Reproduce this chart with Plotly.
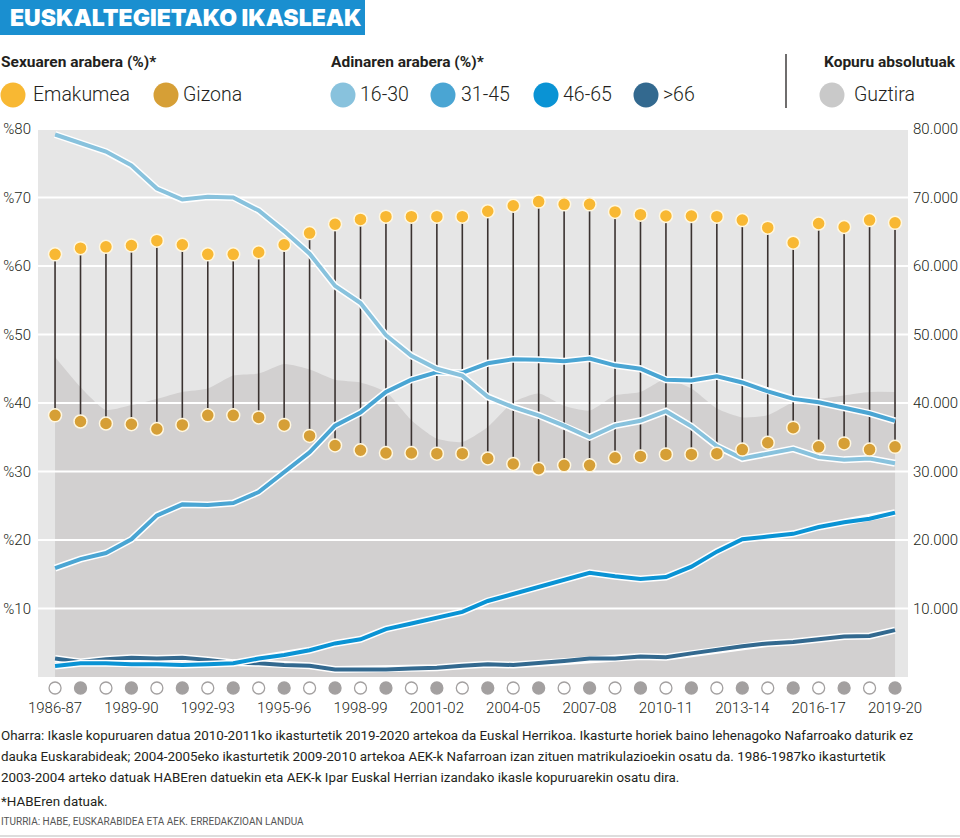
import plotly.graph_objects as go

# ---------------- data ----------------
seasons = ["1986-87", "1987-88", "1988-89", "1989-90", "1990-91", "1991-92", "1992-93",
           "1993-94", "1994-95", "1995-96", "1996-97", "1997-98", "1998-99", "1999-00",
           "2000-01", "2001-02", "2002-03", "2003-04", "2004-05", "2005-06", "2006-07",
           "2007-08", "2008-09", "2009-10", "2010-11", "2011-12", "2012-13", "2013-14",
           "2014-15", "2015-16", "2016-17", "2017-18", "2018-19", "2019-20"]
tick_seasons = ["1986-87", "1989-90", "1992-93", "1995-96", "1998-99", "2001-02",
                "2004-05", "2007-08", "2010-11", "2013-14", "2016-17", "2019-20"]

women = [61.7, 62.6, 62.8, 63.0, 63.7, 63.1, 61.7, 61.7, 62.0, 63.1, 64.8, 66.1, 66.8, 67.2,
         67.2, 67.2, 67.2, 68.0, 68.8, 69.4, 69.0, 69.0, 67.9, 67.5, 67.3, 67.3, 67.2, 66.7,
         65.6, 63.4, 66.2, 65.7, 66.7, 66.3]
men = [38.2, 37.3, 37.0, 36.9, 36.2, 36.8, 38.2, 38.2, 37.9, 36.8, 35.2, 33.8, 33.1, 32.7,
       32.7, 32.6, 32.6, 31.9, 31.1, 30.4, 30.9, 30.9, 32.0, 32.2, 32.5, 32.5, 32.6, 33.2,
       34.2, 36.4, 33.6, 34.1, 33.2, 33.6]

age_16_30 = [79.2, 78.0, 76.7, 74.7, 71.3, 69.7, 70.1, 70.0, 68.1, 65.1, 61.8, 57.1, 54.6, 49.9,
             46.9, 45.0, 44.0, 40.9, 39.4, 38.2, 36.7, 35.0, 36.7, 37.4, 38.8, 36.6, 33.7, 31.9,
             32.6, 33.3, 32.1, 31.7, 31.9, 31.2]
age_31_45 = [15.9, 17.2, 18.1, 20.1, 23.6, 25.2, 25.1, 25.4, 27.0, 29.9, 32.8, 36.7, 38.6, 41.6,
             43.4, 44.5, 44.4, 45.8, 46.4, 46.3, 46.1, 46.5, 45.5, 45.0, 43.4, 43.3, 43.9, 43.0,
             41.7, 40.6, 40.1, 39.3, 38.5, 37.4]
age_46_65 = [1.6, 2.0, 2.0, 1.85, 1.85, 1.75, 1.85, 2.0, 2.7, 3.2, 3.9, 4.9, 5.5, 7.0,
             7.8, 8.7, 9.5, 11.1, 12.1, 13.2, 14.1, 15.2, 14.7, 14.3, 14.6, 16.1, 18.3, 20.1,
             20.5, 20.9, 21.9, 22.6, 23.1, 24.0]
age_66 = [2.7, 2.2, 2.6, 2.8, 2.7, 2.8, 2.5, 2.1, 2.0, 1.75, 1.65, 1.1, 1.1, 1.1,
          1.25, 1.35, 1.65, 1.85, 1.75, 2.0, 2.35, 2.7, 2.7, 3.0, 2.9, 3.45, 4.0, 4.5,
          4.9, 5.1, 5.5, 5.9, 6.0, 6.85]

total = [46700, 42300, 39000, 39700, 40600, 41600, 42100, 44000, 44300, 45700, 44900, 43400,
         43000, 41600, 37500, 34800, 34300, 36500, 40100, 41400, 39600, 38900, 41100, 41600,
         43500, 42100, 39200, 37900, 38200, 40100, 40600, 41100, 41600, 41600]

pct_ticks = [10, 20, 30, 40, 50, 60, 70, 80]
pct_labels = ["%10", "%20", "%30", "%40", "%50", "%60", "%70", "%80"]
abs_ticks = [10000, 20000, 30000, 40000, 50000, 60000, 70000, 80000]
abs_labels = ["10.000", "20.000", "30.000", "40.000", "50.000", "60.000", "70.000", "80.000"]

# ---------------- styling / geometry ----------------
W, H = 960, 838
L, R, T, B = 38, 908, 129, 696       # plot area in pixels
ZERO_PX = 677                        # pixel row of value 0
ROW_PX = 688                         # pixel row of the season marker strip
PCT_MAX, ABS_MAX = 80, 80000
unit = (ZERO_PX - T) / PCT_MAX       # px per percent
pct_min = -(B - ZERO_PX) / unit
abs_min = pct_min * ABS_MAX / PCT_MAX
X_RANGE = [-0.67, 33.51]

TXT = "#231f20"
C_WOMEN = "#f8b833"
C_MEN = "#d69f36"
C_1630 = "#88c2dd"
C_3145 = "#4aa5d3"
C_4665 = "#0a93d4"
C_66 = "#33698f"
C_AREA = "#d2d0d0"
C_BG = "#e6e6e6"
C_STEM = "#3a3230"
FONT = "Roboto"


def px(x):
    return (x - L) / (R - L)


def py(y):
    return (B - y) / (B - T)


xs = list(range(len(seasons)))
tick_pos = [seasons.index(s) for s in tick_seasons]

fig = go.Figure()

# total students (absolute, right axis)
fig.add_trace(go.Scatter(
    x=xs, y=total, yaxis="y", mode="lines", fill="tozeroy",
    line=dict(width=0, shape="spline", smoothing=0.6), fillcolor=C_AREA,
    hoverinfo="skip", showlegend=False))

# white gridlines drawn over the area
gx, gy = [], []
for v in pct_ticks:
    gx += [X_RANGE[0], X_RANGE[1], None]
    gy += [v, v, None]
fig.add_trace(go.Scatter(x=gx, y=gy, yaxis="y2", mode="lines",
                         line=dict(color="white", width=2), hoverinfo="skip", showlegend=False))

# alternating season markers below the plot
row_y = [-(ROW_PX - ZERO_PX) / unit] * len(seasons)
fills = ["white" if i % 2 == 0 else "#a3a0a0" for i in xs]
fig.add_trace(go.Scatter(x=xs, y=row_y, yaxis="y2", mode="markers",
                         marker=dict(color=fills, size=12, line=dict(color="#a3a0a0", width=1.3)),
                         hoverinfo="skip", showlegend=False))

# stems between women and men
sx, sy = [], []
for i, w, m in zip(xs, women, men):
    sx += [i, i, None]
    sy += [w, m, None]
fig.add_trace(go.Scatter(x=sx, y=sy, yaxis="y2", mode="lines",
                         line=dict(color=C_STEM, width=1.6), hoverinfo="skip",
                         showlegend=False))

# age lines with white casing
for vals, col in [(age_66, C_66), (age_46_65, C_4665), (age_31_45, C_3145), (age_16_30, C_1630)]:
    fig.add_trace(go.Scatter(x=xs, y=vals, yaxis="y2", mode="lines",
                             line=dict(color="white", width=7), hoverinfo="skip",
                             showlegend=False))
    fig.add_trace(go.Scatter(x=xs, y=vals, yaxis="y2", mode="lines",
                             line=dict(color=col, width=4), showlegend=False))

# gender dots
fig.add_trace(go.Scatter(x=xs, y=men, yaxis="y2", mode="markers",
                         marker=dict(color=C_MEN, size=13, line=dict(color="#fff7e0", width=1.5)),
                         showlegend=False))
fig.add_trace(go.Scatter(x=xs, y=women, yaxis="y2", mode="markers",
                         marker=dict(color=C_WOMEN, size=13, line=dict(color="#fff7e0", width=1.5)),
                         showlegend=False))

shapes = []
annotations = []

# grey plot background (only above zero)
shapes.append(dict(type="rect", xref="paper", yref="y", x0=0, x1=1, y0=0, y1=ABS_MAX,
                   fillcolor=C_BG, line=dict(width=0), layer="below"))


def label(x, y, text, size, color=TXT, weight=400, family=FONT):
    annotations.append(dict(xref="paper", yref="paper", x=px(x), y=py(y), xanchor="left",
                            yanchor="middle", align="left", showarrow=False, text=text,
                            borderpad=0,
                            font=dict(family=family, size=size, color=color, weight=weight)))


# title box
shapes.append(dict(type="rect", xref="paper", yref="paper", x0=px(0), x1=px(365),
                   y0=py(35), y1=py(0), fillcolor="#1a8fd0", line=dict(width=0), layer="above"))
label(9, 18, "EUSKALTEGIETAKO IKASLEAK", 23, "white", 900, "Inter")

# legend headings
label(0, 62, "Sexuaren arabera (%)*", 15.5, TXT, 700)
label(330, 62, "Adinaren arabera (%)*", 15.5, TXT, 700)
label(823, 62, "Kopuru absolutuak", 15.5, TXT, 700)
shapes.append(dict(type="line", xref="paper", yref="paper", x0=px(786), x1=px(786),
                   y0=py(54), y1=py(108), line=dict(color=TXT, width=1.3)))

legend_items = [(13, 32, "Emakumea", C_WOMEN), (166, 182, "Gizona", C_MEN),
                (343, 359, "16-30", C_1630), (443, 460, "31-45", C_3145),
                (546, 562, "46-65", C_4665), (646, 662, ">66", C_66),
                (832, 853, "Guztira", "#c9c9c9")]
for cx, tx, text, col in legend_items:
    r = 12.5
    shapes.append(dict(type="circle", xref="paper", yref="paper", x0=px(cx - r), x1=px(cx + r),
                       y0=py(95 + r), y1=py(95 - r), fillcolor=col, line=dict(width=0)))
    label(tx, 95, text, 19.5, TXT, 300)

# notes
notes = [
    (735, "Oharra: Ikasle kopuruaren datua 2010-2011ko ikasturtetik 2019-2020 artekoa da Euskal Herrikoa. Ikasturte horiek baino lehenagoko Nafarroako daturik ez"),
    (756, "dauka Euskarabideak; 2004-2005eko ikasturtetik 2009-2010 artekoa AEK-k Nafarroan izan zituen matrikulazioekin osatu da. 1986-1987ko ikasturtetik"),
    (777, "2003-2004 arteko datuak HABEren datuekin eta AEK-k Ipar Euskal Herrian izandako ikasle kopuruarekin osatu dira."),
    (801, "*HABEren datuak."),
]
for yy, t in notes:
    label(0, yy, t, 13.4, TXT, 400)
label(0, 821, "ITURRIA: HABE, EUSKARABIDEA ETA AEK. ERREDAKZIOAN LANDUA", 10, "#555555", 400)
shapes.append(dict(type="line", xref="paper", yref="paper", x0=px(0), x1=px(960),
                   y0=py(836), y1=py(836), line=dict(color="#bbbbbb", width=1)))

fig.update_layout(
    width=W, height=H,
    margin=dict(l=L, r=W - R, t=T, b=H - B, pad=0, autoexpand=False),
    paper_bgcolor="white", plot_bgcolor="white",
    showlegend=False,
    font=dict(family=FONT, color=TXT),
    xaxis=dict(range=X_RANGE, tickmode="array", tickvals=tick_pos,
               ticktext=tick_seasons, showgrid=False, zeroline=False, showline=False,
               ticks="", tickfont=dict(family=FONT, size=15, color=TXT, weight=300),
               ticklabelstandoff=1, automargin=False),
    yaxis=dict(side="right", range=[abs_min, ABS_MAX], tickmode="array", tickvals=abs_ticks,
               ticktext=abs_labels, showgrid=False, zeroline=False, showline=False, ticks="",
               ticklabelstandoff=4, automargin=False,
               tickfont=dict(family=FONT, size=15, color=TXT, weight=300)),
    yaxis2=dict(side="left", overlaying="y", range=[pct_min, PCT_MAX], tickmode="array",
                tickvals=pct_ticks, ticktext=pct_labels, showgrid=False, zeroline=False,
                showline=False, ticks="", ticklabelstandoff=6, automargin=False,
                tickfont=dict(family=FONT, size=15, color=TXT, weight=300)),
    shapes=shapes, annotations=annotations,
)

fig.write_html("out.html")
